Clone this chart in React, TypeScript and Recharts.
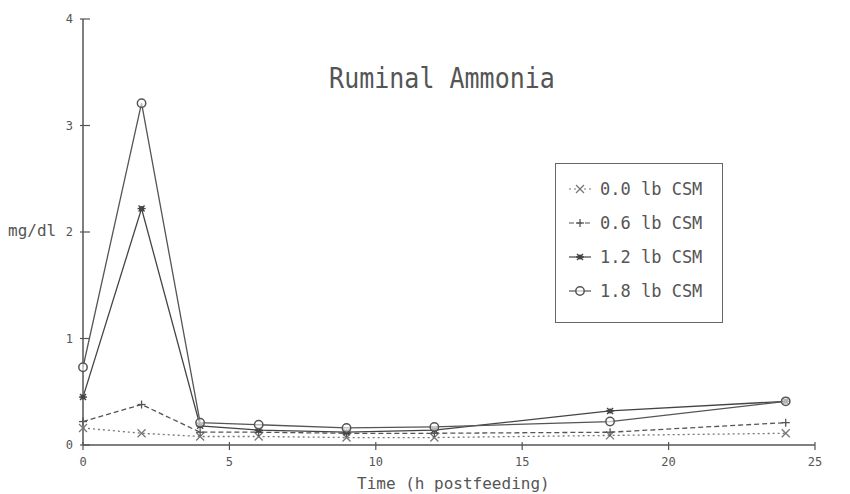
import React from 'react';
import { LineChart, Line, XAxis, YAxis } from 'recharts';

const hours = [0, 2, 4, 6, 9, 12, 18, 24];
const csm00 = [0.16, 0.11, 0.08, 0.08, 0.07, 0.07, 0.09, 0.11];
const csm06 = [0.22, 0.38, 0.12, 0.12, 0.11, 0.11, 0.12, 0.21];
const csm12 = [0.45, 2.22, 0.18, 0.14, 0.12, 0.14, 0.32, 0.41];
const csm18 = [0.73, 3.21, 0.21, 0.19, 0.16, 0.17, 0.22, 0.41];

const xTicks = [0, 5, 10, 15, 20, 25];
const yTicks = [0, 1, 2, 3, 4];

const seriesNames = ['0.0 lb CSM', '0.6 lb CSM', '1.2 lb CSM', '1.8 lb CSM'];
const seriesKeys = ['c00', 'c06', 'c12', 'c18'];
const seriesShapes = ['x', 'plus', 'star', 'circle'];
const seriesDash = ['2 3', '5 3', undefined, undefined];
const seriesColor = ['#777', '#555', '#444', '#555'];

const data = hours.map((h, i) => ({
  h,
  c00: csm00[i],
  c06: csm06[i],
  c12: csm12[i],
  c18: csm18[i],
}));

const FONT = '"DejaVu Sans Mono", "Liberation Mono", monospace';
const INK = '#555';

function Marker({ shape, cx, cy, color }: { shape: string; cx: number; cy: number; color: string }) {
  const s = 4;
  if (shape === 'x') {
    return (
      <g stroke={color} strokeWidth={1.3} fill="none">
        <line x1={cx - s} y1={cy - s} x2={cx + s} y2={cy + s} />
        <line x1={cx - s} y1={cy + s} x2={cx + s} y2={cy - s} />
      </g>
    );
  }
  if (shape === 'plus') {
    return (
      <g stroke={color} strokeWidth={1.3} fill="none">
        <line x1={cx - s} y1={cy} x2={cx + s} y2={cy} />
        <line x1={cx} y1={cy - s} x2={cx} y2={cy + s} />
      </g>
    );
  }
  if (shape === 'star') {
    return (
      <g stroke={color} strokeWidth={1.4} fill="none">
        <line x1={cx - s} y1={cy} x2={cx + s} y2={cy} />
        <line x1={cx - 3} y1={cy - 3} x2={cx + 3} y2={cy + 3} />
        <line x1={cx - 3} y1={cy + 3} x2={cx + 3} y2={cy - 3} />
        <circle cx={cx} cy={cy} r={1.8} fill={color} />
      </g>
    );
  }
  return <circle cx={cx} cy={cy} r={4.2} stroke={color} strokeWidth={1.5} fill="#fff" fillOpacity={0.6} />;
}

const makeDot = (shape: string, color: string) => (props: any) => {
  const { cx, cy, index } = props;
  if (cx == null || cy == null) return <g key={index} />;
  return <Marker key={index} shape={shape} cx={cx} cy={cy} color={color} />;
};

const XTick = (props: any) => {
  const { x, y, payload } = props;
  return (
    <g>
      <line x1={x} y1={y - 3} x2={x} y2={y + 5} stroke={INK} strokeWidth={1.2} />
      <text x={x} y={y + 21} textAnchor="middle" fontFamily={FONT} fontSize={12} fill="#555">
        {payload.value}
      </text>
    </g>
  );
};

const YTick = (props: any) => {
  const { x, y, payload } = props;
  return (
    <g>
      <line x1={x - 3} y1={y} x2={x + 7} y2={y} stroke={INK} strokeWidth={1.2} />
      <text x={x - 10} y={y + 4} textAnchor="end" fontFamily={FONT} fontSize={12} fill="#555">
        {payload.value}
      </text>
    </g>
  );
};

const LegendBox = () => (
  <div
    style={{
      position: 'absolute',
      left: 555,
      top: 163,
      width: 168,
      height: 160,
      border: '1.5px solid #666',
      boxSizing: 'border-box',
      background: '#fff',
    }}
  >
    <svg width={165} height={157} style={{ display: 'block' }}>
      {seriesNames.map((name, i) => {
        const cy = 25 + i * 34;
        return (
          <g key={name}>
            <line x1={13} y1={cy} x2={35} y2={cy} stroke={seriesColor[i]} strokeWidth={1.2} strokeDasharray={seriesDash[i]} />
            <Marker shape={seriesShapes[i]} cx={24} cy={cy} color={seriesColor[i]} />
            <text x={44} y={cy + 6} fontFamily={FONT} fontSize={17} fill="#555">
              {name}
            </text>
          </g>
        );
      })}
    </svg>
  </div>
);

export default function App() {
  return (
    <div style={{ position: 'absolute', left: 0, top: 0, width: 850, height: 494, background: '#fff' }}>
      <LineChart width={850} height={494} data={data} margin={{ top: 19, right: 35, bottom: 0, left: 0 }}>
        <XAxis
          dataKey="h"
          type="number"
          domain={[0, 25]}
          ticks={xTicks}
          tickSize={0}
          tickMargin={0}
          tickLine={false}
          tick={<XTick />}
          axisLine={{ stroke: INK, strokeWidth: 1.5 }}
          height={49}
          interval={0}
        />
        <YAxis
          type="number"
          domain={[0, 4]}
          ticks={yTicks}
          tickSize={0}
          tickMargin={0}
          tickLine={false}
          tick={<YTick />}
          axisLine={{ stroke: INK, strokeWidth: 1.5 }}
          width={83}
          interval={0}
        />
        {seriesKeys.map((k, i) => (
          <Line
            key={k}
            type="linear"
            dataKey={k}
            name={seriesNames[i]}
            stroke={seriesColor[i]}
            strokeWidth={1.3}
            strokeDasharray={seriesDash[i]}
            dot={makeDot(seriesShapes[i], seriesColor[i])}
            activeDot={false}
            isAnimationActive={false}
          />
        ))}
      </LineChart>
      <LegendBox />
      <div
        style={{
          position: 'absolute',
          left: 0,
          top: 62,
          width: 884,
          textAlign: 'center',
          fontFamily: FONT,
          fontSize: 25,
          color: '#555',
          lineHeight: '30px',
          transform: 'scaleY(1.15)',
          transformOrigin: '50% 0',
        }}
      >
        Ruminal Ammonia
      </div>
      <div
        style={{
          position: 'absolute',
          left: 8,
          top: 221,
          fontFamily: FONT,
          fontSize: 16,
          color: '#555',
          lineHeight: '20px',
        }}
      >
        mg/dl
      </div>
      <div
        style={{
          position: 'absolute',
          left: 357,
          top: 474,
          fontFamily: FONT,
          fontSize: 16,
          color: '#555',
          lineHeight: '20px',
        }}
      >
        Time (h postfeeding)
      </div>
    </div>
  );
}
